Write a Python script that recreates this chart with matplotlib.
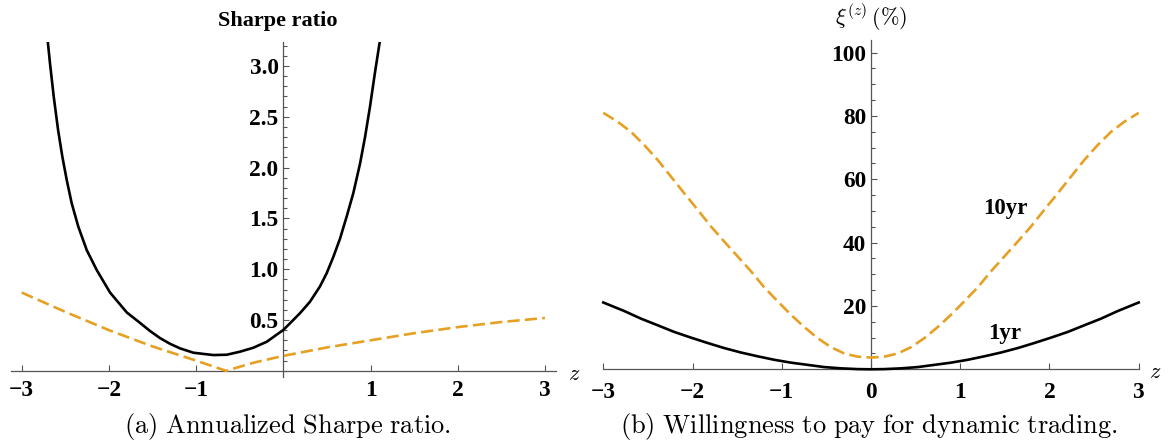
import matplotlib
matplotlib.use("Agg")
import matplotlib.pyplot as plt
from matplotlib.ticker import FixedLocator, MultipleLocator

plt.rcParams['mathtext.fontset'] = 'cm'
plt.rcParams['font.family'] = ['Liberation Serif', 'DejaVu Serif']
plt.rcParams['font.weight'] = 'bold'
plt.rcParams['xtick.labelsize'] = 16.8
plt.rcParams['ytick.labelsize'] = 16.8

# ---------------- data ----------------
# Panel (a): annualized Sharpe ratio
sr_dyn_z = [-2.703, -2.676, -2.633, -2.583, -2.534, -2.484, -2.427, -2.351, -2.255,
            -2.140, -1.987, -1.796, -1.644, -1.529, -1.414, -1.300, -1.185, -1.032,
            -0.803, -0.649, -0.497, -0.344, -0.190, 0.0, 0.076, 0.190, 0.306, 0.420,
            0.497, 0.573, 0.650, 0.727, 0.803, 0.880, 0.937, 0.994, 1.050, 1.109]
sr_dyn = [3.256, 3.027, 2.698, 2.370, 2.107, 1.878, 1.649, 1.418, 1.189,
          0.992, 0.770, 0.575, 0.472, 0.392, 0.322, 0.266, 0.221, 0.178,
          0.155, 0.158, 0.188, 0.227, 0.286, 0.402, 0.467, 0.566, 0.680, 0.830,
          0.960, 1.120, 1.300, 1.520, 1.750, 2.040, 2.300, 2.600, 2.930, 3.256]
sr_static_z = [-3.0, -2.5, -2.0, -1.5, -1.0, -0.657, -0.34, 0.0, 0.5, 1.0, 1.5, 2.0, 2.5, 3.0]
sr_static = [0.77, 0.58, 0.40, 0.24, 0.10, 0.0, 0.08, 0.147, 0.23, 0.30, 0.37, 0.43, 0.48, 0.52]

# Panel (b): willingness to pay (%)
wtp_z = [-3.0, -2.84, -2.69, -2.54, -2.39, -2.24, -2.09, -1.94, -1.79, -1.64, -1.49,
         -1.34, -1.20, -1.05, -0.90, -0.75, -0.60, -0.45, -0.30, -0.15, 0.0,
         0.15, 0.30, 0.45, 0.60, 0.75, 0.90, 1.05, 1.20, 1.34, 1.49, 1.64, 1.79,
         1.94, 2.09, 2.24, 2.39, 2.54, 2.69, 2.84, 3.0]
wtp_10yr = [81.0, 78.2, 75.0, 70.8, 66.1, 60.8, 55.5, 50.3, 45.0, 40.2, 35.5,
            30.8, 26.0, 21.6, 17.3, 13.4, 9.9, 7.0, 5.0, 4.0, 3.7,
            4.0, 5.0, 7.0, 9.9, 13.4, 17.3, 21.6, 26.0, 30.8, 35.5, 40.2, 45.0,
            50.3, 55.5, 60.8, 66.1, 70.8, 75.0, 78.2, 81.0]
wtp_1yr_z = [-3.0, -2.765, -2.578, -2.39, -2.205, -2.017, -1.83, -1.644, -1.457, -1.27,
             -1.083, -0.897, -0.71, -0.523, -0.336, -0.149, 0.0, 0.149, 0.336, 0.523,
             0.71, 0.897, 1.083, 1.27, 1.457, 1.644, 1.83, 2.017, 2.205, 2.39, 2.578,
             2.765, 3.0]
wtp_1yr = [21.1, 18.4, 16.0, 13.9, 11.8, 10.0, 8.3, 6.7, 5.3, 4.1,
           3.0, 2.1, 1.4, 0.7, 0.3, 0.06, 0.0, 0.06, 0.3, 0.7,
           1.4, 2.1, 3.0, 4.1, 5.3, 6.7, 8.3, 10.0, 11.8, 13.9, 16.0,
           18.4, 21.1]

xticks_a = [-3, -2, -1, 1, 2, 3]
xticks_b = [-3, -2, -1, 0, 1, 2, 3]
xlabels_a = ['\u22123', '\u22122', '\u22121', '1', '2', '3']
xlabels_b = ['\u22123', '\u22122', '\u22121', '0', '1', '2', '3']
yticks_a = [0.5, 1.0, 1.5, 2.0, 2.5, 3.0]
yticks_b = [20, 40, 60, 80, 100]

# ---------------- style ----------------
W, H = 1168, 442
fig = plt.figure(figsize=(W / 100, H / 100), dpi=100)
ORANGE = '#E6A023'
AXC = '#555555'
LW_BLACK = 1.9
LW_ORANGE = 1.9
DASH = (4.6, 2.0)


def px_axes(x0, x1, y0, y1):
    return fig.add_axes([x0 / W, 1 - y1 / H, (x1 - x0) / W, (y1 - y0) / H])


def style(ax, xpad):
    for s in ['top', 'right']:
        ax.spines[s].set_visible(False)
    for s in ['left', 'bottom']:
        ax.spines[s].set_position(('data', 0))
        ax.spines[s].set_color(AXC)
        ax.spines[s].set_linewidth(0.9)
    ax.tick_params(axis='both', which='both', direction='in', color=AXC, width=0.8)
    ax.tick_params(axis='both', which='major', length=4.6)
    ax.tick_params(axis='both', which='minor', length=2.8)
    ax.tick_params(axis='x', pad=xpad)
    ax.tick_params(axis='y', pad=3.4)
    ax.set_facecolor('none')


# ---------------- panel (a) ----------------
axa = px_axes(11, 556, 42, 377)
axa.set_xlim(-3.123, 3.127)
axa.set_ylim(-0.061, 3.236)
style(axa, 6.3)
axa.plot(sr_dyn_z, sr_dyn, color='black', lw=LW_BLACK, zorder=3, solid_joinstyle='round')
axa.plot(sr_static_z, sr_static, color=ORANGE, lw=LW_ORANGE, dashes=DASH, zorder=3)
axa.set_xticks(xticks_a)
axa.set_xticklabels(xlabels_a)
axa.set_yticks(yticks_a)
axa.set_yticklabels(['%.1f' % v for v in yticks_a])
axa.yaxis.set_minor_locator(MultipleLocator(0.1))

fig.text(278 / W, 1 - 26 / H, 'Sharpe ratio', ha='center', va='baseline',
         weight='bold', size=16)
fig.text(574 / W, 1 - 380 / H, r'$z$', ha='center', va='baseline', size=16)
fig.text(288 / W, 1 - 433 / H, r'$\mathrm{(a)\ Annualized\ Sharpe\ ratio.}$',
         ha='center', va='baseline', size=19)

# ---------------- panel (b) ----------------
axb = px_axes(603.3, 1138.7, 40, 369.3)
axb.set_xlim(-3, 3)
axb.set_ylim(0, 104)
style(axb, 9.3)
axb.plot(wtp_1yr_z, wtp_1yr, color='black', lw=LW_BLACK, zorder=3, clip_on=False,
         solid_joinstyle='round')
axb.plot(wtp_z, wtp_10yr, color=ORANGE, lw=LW_ORANGE, dashes=DASH, zorder=3)
axb.set_xticks(xticks_b)
axb.set_xticklabels(xlabels_b)
axb.set_yticks(yticks_b)
axb.set_yticklabels([str(v) for v in yticks_b])
axb.yaxis.set_minor_locator(FixedLocator([v for v in range(5, 105, 5) if v % 20 != 0]))

axb.text(1.50, 50.9, '10yr', ha='center', va='center', weight='bold', size=16.5)
axb.text(1.50, 11.2, '1yr', ha='center', va='center', weight='bold', size=16.5)

fig.text(871 / W, 1 - 25 / H, r'$\xi^{(z)}\,(\%)$', ha='center', va='baseline', size=16)
fig.text(1155 / W, 1 - 378 / H, r'$z$', ha='center', va='baseline', size=16)
fig.text(869 / W, 1 - 433 / H, r'$\mathrm{(b)\ Willingness\ to\ pay\ for\ dynamic\ trading.}$',
         ha='center', va='baseline', size=19)

fig.savefig('out.png', dpi=100)
